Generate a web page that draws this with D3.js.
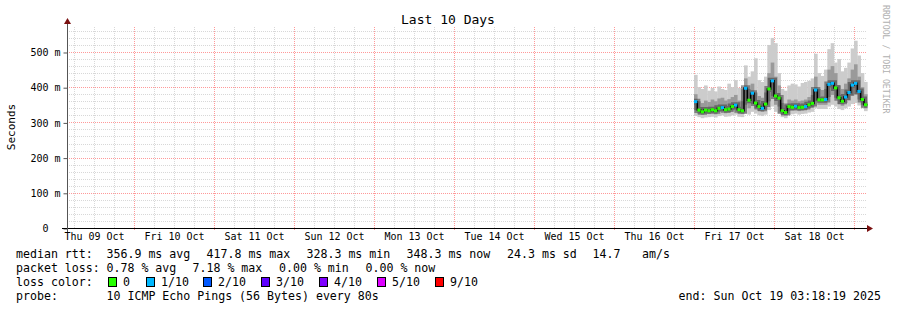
<!DOCTYPE html>
<html>
<head>
<meta charset="utf-8">
<script src="https://cdn.jsdelivr.net/npm/d3@7"></script>
<style>
  body { margin: 0; background: #fff; }
  svg text { font-family: "DejaVu Sans Mono", monospace; fill: #000; }
</style>
</head>
<body>
<svg id="chart"></svg>
<script>
// hourly samples from Fri 17 Oct 00:00, values in ms
let startHour = Date.UTC(2025, 9, 17, 0);
let medianRtt = [359,335,330,335,333,336,333,340,342,336,338,345,349,336,333,397,363,383,355,345,
                 340,352,395,418,375,369,333,328,345,343,346,342,343,345,350,354,392,364,364,365,
                 408,411,398,370,360,372,385,406,411,388,365,350];
let lossCount = [1,0,0,0,0,0,0,0,1,0,0,0,1,0,0,1,0,1,0,0,
                 1,0,0,1,0,0,0,0,0,0,1,0,0,1,0,0,1,0,0,1,
                 1,1,0,0,0,1,1,1,1,1,0,0];
let minRtt    = [318,315,312,314,315,316,314,318,320,316,317,320,322,316,315,325,322,330,325,320,
                 318,322,335,345,330,325,315,312,322,323,325,322,324,325,328,330,340,338,338,338,
                 345,350,345,338,335,340,345,352,355,348,340,332];
let lowRtt    = [335,325,322,325,324,326,323,330,332,326,328,334,337,326,324,350,340,352,340,333,
                 330,336,360,375,350,345,322,320,333,333,336,332,334,335,340,343,360,350,350,350,
                 372,378,370,352,347,355,362,375,380,365,350,340];
let highRtt   = [380,360,355,362,358,365,360,368,370,362,366,372,378,362,360,425,395,410,385,375,
                 370,385,440,470,430,405,355,350,365,362,365,360,362,365,372,378,430,395,392,395,
                 450,460,440,405,395,410,425,450,465,430,400,380];
let maxRtt    = [435,400,395,405,390,398,388,402,395,392,410,400,420,398,395,462,430,445,482,420,
                 415,430,520,540,525,440,395,390,405,410,408,402,412,415,418,425,495,440,432,450,
                 508,525,470,480,445,455,470,510,532,490,440,415];

let yTicks      = [0, 100, 200, 300, 400, 500];
let dayLabels   = ['Thu 09 Oct','Fri 10 Oct','Sat 11 Oct','Sun 12 Oct','Mon 13 Oct',
                   'Tue 14 Oct','Wed 15 Oct','Thu 16 Oct','Fri 17 Oct','Sat 18 Oct'];
let lossLabels  = ['0','1/10','2/10','3/10','4/10','5/10','9/10'];
let lossColors  = ['#26ff00','#00b8ff','#0059ff','#5e00ff','#7e00ff','#dd00ff','#ff0000'];
let rttItems    = ['median rtt:','356.9 ms avg','417.8 ms max','328.3 ms min','348.3 ms now','24.3 ms sd','14.7','am/s'];
let lossItems   = ['packet loss:','0.78 % avg','7.18 % max','0.00 % min','0.00 % now'];
let probeItems  = ['probe:','10 ICMP Echo Pings (56 Bytes) every 80s'];

let width   = 897,
    height  = 310,
    plotL   = 67,
    plotR   = 867,
    plotT   = 27,
    plotB   = 228;

let t0 = Date.UTC(2025, 9, 9, 3, 54);
let t1 = t0 + 10 * 864e5;

let xScale = d3.scaleUtc().domain([t0, t1]).range([plotL, plotR]);
let yScale = d3.scaleLinear().domain([0, 571]).range([plotB, plotT]);

let svg = d3.select('#chart')
            .attr('width', width)
            .attr('height', height);

// grid: minor every 20 ms / 6 h, major every 100 ms / day
let minorY = d3.range(20, 571, 20).filter(v => v % 100 !== 0);
let minorX = d3.utcHour.every(6).range(new Date(t0), new Date(t1)).filter(d => d.getUTCHours() !== 0);
let majorX = d3.utcDay.range(new Date(t0), new Date(t1));

function hLines(vals, color) {
  svg.append('g').selectAll('line')
     .data(vals)
     .enter().append('line')
       .attr('x1', plotL).attr('x2', plotR)
       .attr('y1', d => Math.round(yScale(d)) + 0.5)
       .attr('y2', d => Math.round(yScale(d)) + 0.5)
       .attr('stroke', color)
       .attr('stroke-dasharray', '1,1');
}
function vLines(vals, color, extra) {
  svg.append('g').selectAll('line')
     .data(vals)
     .enter().append('line')
       .attr('x1', d => Math.round(xScale(d)) + 0.5)
       .attr('x2', d => Math.round(xScale(d)) + 0.5)
       .attr('y1', plotT).attr('y2', plotB + extra)
       .attr('stroke', color)
       .attr('stroke-dasharray', '1,1');
}
hLines(minorY, '#d8d8d8');
vLines(minorX, '#d8d8d8', 0);
hLines(yTicks.slice(1), '#ff9999');
vLines(majorX, '#ff9999', 3);

// smoke
let hours = medianRtt.map((d, i) => startHour + i * 36e5);
let colW  = xScale(startHour + 36e5) - xScale(startHour);
let smoke = svg.append('g');
function band(lo, hi, color) {
  smoke.append('g').selectAll('rect')
    .data(hours)
    .enter().append('rect')
      .attr('x', d => xScale(d))
      .attr('width', colW + 0.3)
      .attr('y', (d, i) => yScale(hi[i]))
      .attr('height', (d, i) => yScale(lo[i]) - yScale(hi[i]))
      .attr('fill', color);
}
band(minRtt, maxRtt, '#cccccc');
band(lowRtt, highRtt, '#9a9a9a');

// median
let med = hours.map((t, i) => [t, medianRtt[i]]);
med.push([startHour + hours.length * 36e5, medianRtt[medianRtt.length - 1]]);
let medLine = d3.line().x(d => xScale(d[0])).y(d => yScale(d[1])).curve(d3.curveStepAfter);
svg.append('path')
   .datum(med)
   .attr('d', medLine)
   .attr('fill', 'none')
   .attr('stroke', '#333')
   .attr('stroke-width', 6)
   .attr('stroke-opacity', 0.5);
svg.append('path')
   .datum(med)
   .attr('d', medLine)
   .attr('fill', 'none')
   .attr('stroke', '#000')
   .attr('stroke-width', 1.5);
svg.append('g').selectAll('rect')
   .data(hours)
   .enter().append('rect')
     .attr('x', d => xScale(d))
     .attr('width', colW)
     .attr('y', (d, i) => yScale(medianRtt[i]) - 1.5)
     .attr('height', 3)
     .attr('fill', (d, i) => lossColors[lossCount[i]]);

// axes
let yAxis = d3.axisLeft(yScale)
              .tickValues(yTicks)
              .tickSize(4)
              .tickPadding(3)
              .tickFormat(d => d === 0 ? '0' : d + ' m');
let gy = svg.append('g')
            .attr('transform', `translate(${plotL + 0.5}, 0.5)`)
            .call(yAxis);
gy.select('.domain').remove();
gy.selectAll('line').attr('stroke', '#555');
gy.selectAll('text')
  .attr('font-size', 10)
  .attr('font-family', 'DejaVu Sans Mono')
  .attr('dx', d => d === 0 ? -12 : 0);

let noons = majorX.map(d => +d - 12 * 36e5);
let xAxis = d3.axisBottom(xScale)
              .tickValues(noons)
              .tickSize(0)
              .tickPadding(5)
              .tickFormat((d, i) => dayLabels[i]);
let gx = svg.append('g')
            .attr('transform', `translate(0, ${plotB})`)
            .call(xAxis);
gx.select('.domain').remove();
gx.selectAll('text')
  .attr('font-size', 10)
  .attr('font-family', 'DejaVu Sans Mono');

svg.append('line')
   .attr('x1', plotL - 5).attr('x2', plotR + 1)
   .attr('y1', plotB + 0.5).attr('y2', plotB + 0.5)
   .attr('stroke', '#000');
svg.append('line')
   .attr('x1', plotL + 0.5).attr('x2', plotL + 0.5)
   .attr('y1', plotB + 4).attr('y2', plotT - 3)
   .attr('stroke', '#555');
svg.append('path')
   .attr('d', `M${plotR},${plotB - 3} L${plotR + 6},${plotB + 0.5} L${plotR},${plotB + 4} Z`)
   .attr('fill', '#7a1010');
svg.append('path')
   .attr('d', `M${plotL - 3},${plotT - 3} L${plotL + 0.5},${plotT - 9} L${plotL + 4},${plotT - 3} Z`)
   .attr('fill', '#7a1010');

// titles
svg.append('text')
   .attr('x', 448).attr('y', 24)
   .attr('text-anchor', 'middle')
   .attr('font-size', 13)
   .text('Last 10 Days');
svg.append('text')
   .attr('transform', 'rotate(-90)')
   .attr('x', -127).attr('y', 15)
   .attr('text-anchor', 'middle')
   .attr('font-size', 11)
   .text('Seconds');
svg.append('text')
   .attr('transform', 'translate(883, 5) rotate(90)')
   .attr('font-size', 8.2)
   .style('fill', '#b0b0b0')
   .text('RRDTOOL / TOBI OETIKER');

// legend, one text per field
function legendRow(items, xs, y) {
  svg.append('g').selectAll('text')
     .data(items)
     .enter().append('text')
       .attr('x', (d, i) => xs[i])
       .attr('y', y)
       .attr('font-size', 11.6)
       .text(d => d);
}
legendRow(rttItems,   [16, 106.5, 206.5, 306.5, 406.5, 507, 592.5, 642], 258);
legendRow(lossItems,  [16, 106.5, 192.5, 279, 365.5], 272);
legendRow(['loss color:'], [16], 286);
legendRow(probeItems, [16, 106.5], 300);

let swatchX = [108, 146, 203, 261, 319, 377, 435];
let lg = svg.append('g');
lg.selectAll('rect')
  .data(lossColors)
  .enter().append('rect')
    .attr('x', (d, i) => swatchX[i] + 0.5)
    .attr('y', 277.5)
    .attr('width', 8).attr('height', 9)
    .attr('fill', d => d)
    .attr('stroke', '#000');
lg.selectAll('text')
  .data(lossLabels)
  .enter().append('text')
    .attr('x', (d, i) => swatchX[i] + 15)
    .attr('y', 286)
    .attr('font-size', 11.6)
    .text(d => d);

svg.append('text')
   .attr('x', 881).attr('y', 300)
   .attr('text-anchor', 'end')
   .attr('font-size', 11.6)
   .text('end: Sun Oct 19 03:18:19 2025');
</script>
</body>
</html>
